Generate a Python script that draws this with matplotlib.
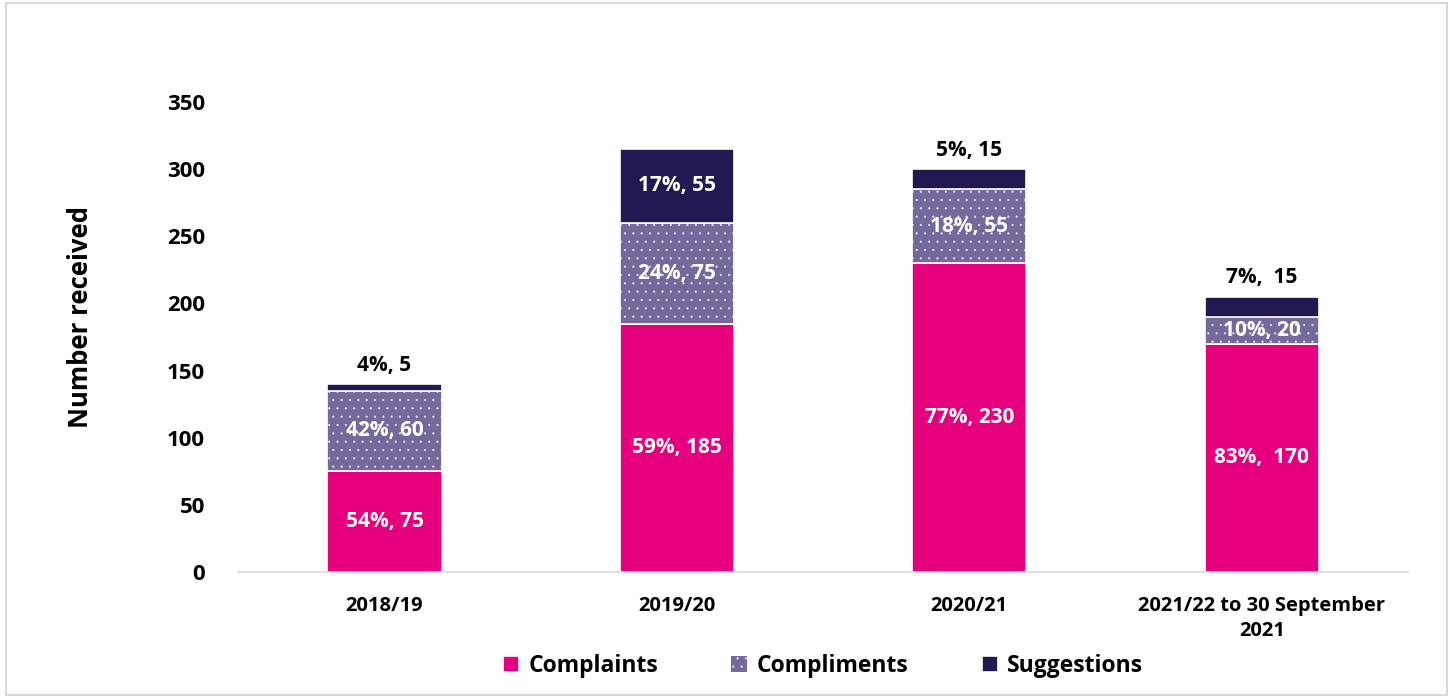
import matplotlib
matplotlib.use("Agg")
import matplotlib.pyplot as plt
from matplotlib.patches import Rectangle
import numpy as np

plt.rcParams["font.family"] = ["Open Sans", "DejaVu Sans"]
plt.rcParams["hatch.linewidth"] = 0.4

periods = ["2018/19", "2019/20", "2020/21", "2021/22 to 30 September\n2021"]
complaints = [75, 185, 230, 170]
compliments = [60, 75, 55, 20]
suggestions = [5, 55, 15, 15]
complaint_labels = ["54%, 75", "59%, 185", "77%, 230", "83%,  170"]
compliment_labels = ["42%, 60", "24%, 75", "18%, 55", "10%, 20"]
suggestion_labels = ["4%, 5", "17%, 55", "5%, 15", "7%,  15"]

PINK = "#E6007E"
LILAC = "#75689A"
NAVY = "#211A52"

fig = plt.figure(figsize=(14.53, 6.98), dpi=100, facecolor="white")
ax = fig.add_axes([0.164, 0.1805, 0.805, 0.6735])

x = np.arange(len(periods))
w = 0.39
b1 = ax.bar(x, complaints, w, color=PINK, edgecolor="white", linewidth=1.2,
            label="Complaints")
b2 = ax.bar(x, compliments, w, bottom=complaints, color=LILAC, edgecolor="#E2DEEC",
            linewidth=0, hatch="..", label="Compliments")
# white outline over the hatched segment
ax.bar(x, compliments, w, bottom=complaints, fill=False, edgecolor="white",
       linewidth=1.2)
bot3 = np.array(complaints) + np.array(compliments)
b3 = ax.bar(x, suggestions, w, bottom=bot3, color=NAVY, edgecolor="white",
            linewidth=1.2, label="Suggestions")

lab = dict(ha="center", va="center", fontsize=15, fontweight="bold")
for i in range(len(periods)):
    ax.text(x[i], complaints[i] / 2, complaint_labels[i], color="white", **lab)
    ax.text(x[i], complaints[i] + compliments[i] / 2, compliment_labels[i],
            color="white", **lab)
    if suggestions[i] >= 30:
        ax.text(x[i], bot3[i] + suggestions[i] / 2, suggestion_labels[i],
                color="white", **lab)
    else:
        ax.text(x[i], bot3[i] + suggestions[i] + 14, suggestion_labels[i],
                color="black", **lab)

ax.set_xlim(-0.5, 3.5)
ax.set_ylim(0, 350)
ax.set_yticks(range(0, 351, 50))
ax.set_xticks(x, periods)
ax.tick_params(axis="y", length=0, labelsize=16, pad=24)
ax.tick_params(axis="x", length=0, labelsize=14.5, pad=17)
for t in ax.get_xticklabels() + ax.get_yticklabels():
    t.set_fontweight("bold")
for t in ax.get_xticklabels():
    t.set_linespacing(1.35)
for s in ["top", "right", "left"]:
    ax.spines[s].set_visible(False)
ax.spines["bottom"].set_color("#D9D9D9")
ax.spines["bottom"].set_linewidth(1.2)

ax.set_ylabel("Number received", fontsize=18.5, fontweight="bold")
ax.yaxis.set_label_coords(-0.123, 0.543)

ax.legend(handles=[b1, b2, b3], loc="upper center", bbox_to_anchor=(0.5, -0.13),
          ncol=3, frameon=False, handlelength=0.7, handleheight=0.7,
          handletextpad=0.4, columnspacing=3.2, prop={"weight": "bold", "size": 16.5})

fig.patches.append(Rectangle((0.004, 0.004), 0.992, 0.992, transform=fig.transFigure,
                             fill=False, edgecolor="#D9D9D9", linewidth=1.5))

fig.savefig("out.png", dpi=100, facecolor="white")
plt.close(fig)
